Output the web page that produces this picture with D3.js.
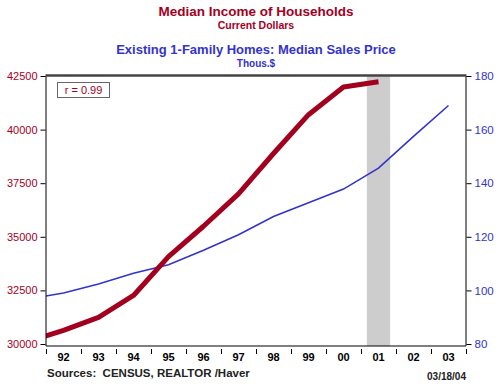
<!DOCTYPE html>
<html>
<head>
<meta charset="utf-8">
<script src="https://cdn.jsdelivr.net/npm/d3@7"></script>
<style>
  body { margin: 0; background: #fff; }
  svg { display: block; font-family: "Liberation Sans", Arial, sans-serif; }
</style>
</head>
<body>
<div id="chart"></div>
<script>
// data, annual values plotted at mid-year
var incomeYears = [1991, 1992, 1993, 1994, 1995, 1996, 1997, 1998, 1999, 2000, 2001];
var income = [30126, 30636, 31241, 32264, 34076, 35492, 37005, 38885, 40696, 41990, 42228];
var priceYears = [1991, 1992, 1993, 1994, 1995, 1996, 1997, 1998, 1999, 2000, 2001, 2002, 2003];
var price = [96.8, 99.0, 102.4, 106.4, 109.6, 115.0, 120.8, 127.6, 132.7, 137.8, 145.6, 157.5, 169.0];
var leftTicks = [30000, 32500, 35000, 37500, 40000, 42500];
var rightTicks = [80, 100, 120, 140, 160, 180];
var yearLabels = ['92', '93', '94', '95', '96', '97', '98', '99', '00', '01', '02', '03'];
var recession = [2001 + 2 / 12, 2001 + 10 / 12];

(function() {
var red = '#a3001e', blue = '#3333cc';
var W = 500, H = 386;
var pLeft = 46, pRight = 466, pTop = 76, pBottom = 344, frameBottom = 346;

var svg = d3.select('#chart').append('svg').attr('width', W).attr('height', H);

var x = d3.scaleLinear().domain([1992, 2004]).range([pLeft, pRight]);
var yL = d3.scaleLinear().domain([30000, 42500]).range([pBottom, pTop]);
var yR = d3.scaleLinear().domain([80, 180]).range([pBottom, pTop]);

svg.append('clipPath').attr('id', 'plot')
  .append('rect').attr('x', pLeft).attr('y', pTop - 1).attr('width', pRight - pLeft).attr('height', frameBottom - pTop + 1);

// recession shading
svg.append('rect')
  .attr('x', x(recession[0])).attr('y', pTop)
  .attr('width', x(recession[1]) - x(recession[0]))
  .attr('height', frameBottom - pTop)
  .attr('fill', '#cdcdcd');

var g = svg.append('g').attr('clip-path', 'url(#plot)');

var lineL = d3.line().x(function(d, i) { return x(incomeYears[i] + 0.5); }).y(function(d) { return yL(d); });
var lineR = d3.line().x(function(d, i) { return x(priceYears[i] + 0.5); }).y(function(d) { return yR(d); });

g.append('path').datum(price).attr('d', lineR)
  .attr('fill', 'none').attr('stroke', blue).attr('stroke-width', 1.6);
g.append('path').datum(income).attr('d', lineL)
  .attr('fill', 'none').attr('stroke', red).attr('stroke-width', 5).attr('stroke-linejoin', 'round');

// frame
svg.append('line').attr('x1', pLeft).attr('x2', pLeft).attr('y1', pTop).attr('y2', frameBottom).attr('stroke', '#000');
svg.append('line').attr('x1', pRight).attr('x2', pRight).attr('y1', pTop).attr('y2', frameBottom).attr('stroke', '#000');
svg.append('line').attr('x1', pLeft).attr('x2', pRight).attr('y1', frameBottom).attr('y2', frameBottom).attr('stroke', '#000');
svg.append('line').attr('x1', pLeft - 0.5).attr('x2', pRight + 0.5).attr('y1', pTop - 0.5).attr('y2', pTop - 0.5)
  .attr('stroke', '#444').attr('stroke-width', 2.5);

// axes
var aL = svg.append('g').attr('transform', 'translate(' + (pLeft - 0.5) + ',0)')
  .call(d3.axisLeft(yL).tickValues(leftTicks).tickSize(5).tickPadding(3).tickFormat(d3.format('d')));
aL.select('.domain').remove();
aL.selectAll('text').attr('fill', red).style('font-size', '11px');
aL.selectAll('line').attr('stroke', '#000');

var aR = svg.append('g').attr('transform', 'translate(' + (pRight + 0.5) + ',0)')
  .call(d3.axisRight(yR).tickValues(rightTicks).tickSize(5).tickPadding(3));
aR.select('.domain').remove();
aR.selectAll('text').attr('fill', blue).style('font-size', '11.5px');
aR.selectAll('line').attr('stroke', '#000');

var aB = svg.append('g').attr('transform', 'translate(0,349)')
  .call(d3.axisBottom(x).tickValues(d3.range(1992, 2005)).tickSize(5).tickFormat(''));
aB.select('.domain').remove();
aB.selectAll('line').attr('stroke', '#000');

svg.selectAll('.yr').data(yearLabels).enter().append('text')
  .attr('class', 'yr')
  .attr('x', function(d, i) { return x(1992 + i + 0.5); })
  .attr('y', 361)
  .attr('text-anchor', 'middle')
  .attr('font-size', 11).attr('font-weight', 'bold')
  .text(function(d) { return d; });

// titles
svg.append('text').attr('x', 256).attr('y', 16).attr('text-anchor', 'middle')
  .attr('fill', red).attr('font-size', 13.5).attr('font-weight', 'bold').text('Median Income of Households');
svg.append('text').attr('x', 256).attr('y', 28.5).attr('text-anchor', 'middle')
  .attr('fill', red).attr('font-size', 10.5).attr('font-weight', 'bold').text('Current Dollars');
svg.append('text').attr('x', 256).attr('y', 54).attr('text-anchor', 'middle')
  .attr('fill', blue).attr('font-size', 13).attr('font-weight', 'bold').text('Existing 1-Family Homes: Median Sales Price');
svg.append('text').attr('x', 256).attr('y', 66.5).attr('text-anchor', 'middle')
  .attr('fill', blue).attr('font-size', 10).attr('font-weight', 'bold').text('Thous.$');

// correlation box
svg.append('rect').attr('x', 57.5).attr('y', 82.5).attr('width', 52).attr('height', 15)
  .attr('fill', '#fff').attr('stroke', '#666');
svg.append('text').attr('x', 83.5).attr('y', 94).attr('text-anchor', 'middle')
  .attr('fill', red).attr('font-size', 11).text('r = 0.99');

// footer
svg.append('text').attr('x', 47).attr('y', 377)
  .attr('font-size', 11.5).attr('font-weight', 'bold').attr('fill', '#222')
  .attr('xml:space', 'preserve').text('Sources:  CENSUS, REALTOR /Haver');
svg.append('text').attr('x', 466).attr('y', 380).attr('text-anchor', 'end')
  .attr('font-size', 10).attr('font-weight', 'bold').attr('fill', '#222').text('03/18/04');
})();
</script>
</body>
</html>
